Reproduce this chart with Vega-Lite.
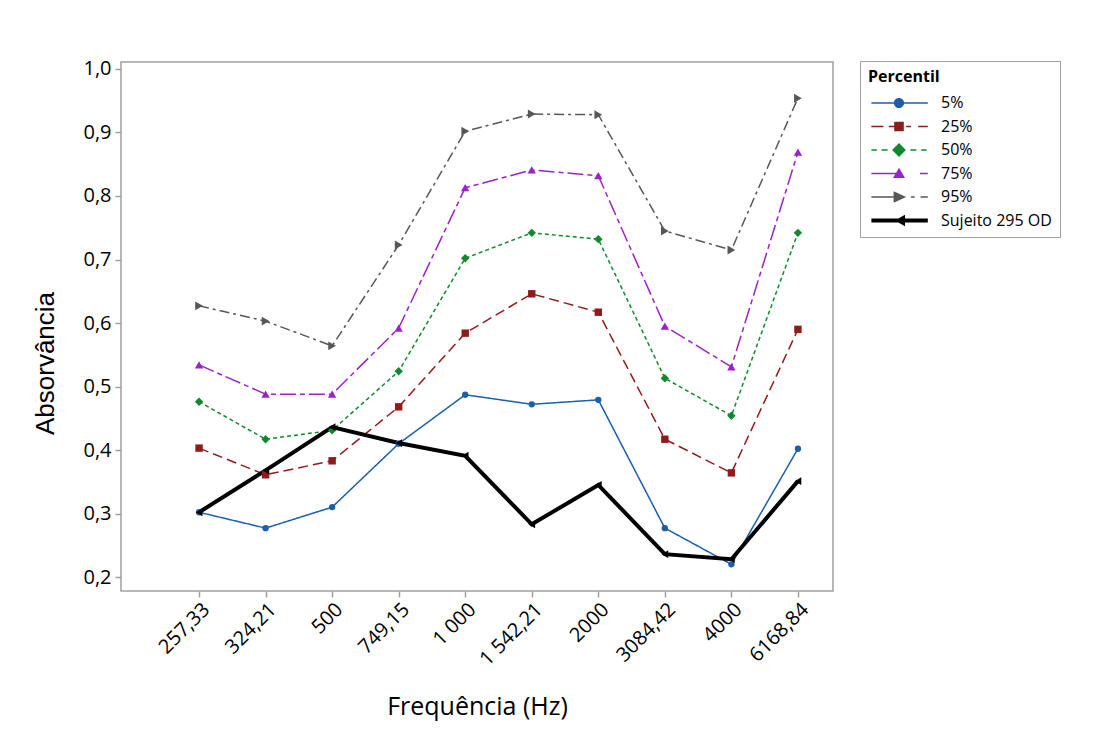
{
  "$schema": "https://vega.github.io/schema/vega-lite/v6.json",
  "autosize": {"type": "none"},
  "padding": {"left": 121, "top": 62, "right": 278, "bottom": 151},
  "width": 712,
  "height": 529,
  "background": "white",
  "config": {
    "font": "Open Sans",
    "view": {"stroke": "#a0a0a0", "strokeWidth": 1.5},
    "axis": {"domain": false, "grid": false, "tickColor": "#a0a0a0", "tickWidth": 1.5, "tickSize": 6, "labelColor": "#000", "titleColor": "#000", "labelFont": "Open Sans", "titleFont": "Open Sans"},
    "legend": {"strokeColor": "#a0a0a0", "padding": 8, "titleFontSize": 16, "titleFontWeight": "bold", "titleColor": "#000", "titlePadding": 10, "labelFontSize": 16, "labelColor": "#000", "labelFont": "Open Sans", "titleFont": "Open Sans", "symbolSize": 144, "symbolOffset": 23, "labelOffset": 34, "rowPadding": 7.5, "symbolStrokeWidth": 0, "symbolOpacity": 1}
  },
  "data": {"values": [
    {"freq": "257,33", "series": "5%", "value": 0.302},
    {"freq": "324,21", "series": "5%", "value": 0.277},
    {"freq": "500", "series": "5%", "value": 0.310},
    {"freq": "749,15", "series": "5%", "value": 0.410},
    {"freq": "1 000", "series": "5%", "value": 0.487},
    {"freq": "1 542,21", "series": "5%", "value": 0.472},
    {"freq": "2000", "series": "5%", "value": 0.479},
    {"freq": "3084,42", "series": "5%", "value": 0.277},
    {"freq": "4000", "series": "5%", "value": 0.220},
    {"freq": "6168,84", "series": "5%", "value": 0.402},
    {"freq": "257,33", "series": "25%", "value": 0.403},
    {"freq": "324,21", "series": "25%", "value": 0.361},
    {"freq": "500", "series": "25%", "value": 0.383},
    {"freq": "749,15", "series": "25%", "value": 0.468},
    {"freq": "1 000", "series": "25%", "value": 0.584},
    {"freq": "1 542,21", "series": "25%", "value": 0.646},
    {"freq": "2000", "series": "25%", "value": 0.617},
    {"freq": "3084,42", "series": "25%", "value": 0.417},
    {"freq": "4000", "series": "25%", "value": 0.364},
    {"freq": "6168,84", "series": "25%", "value": 0.590},
    {"freq": "257,33", "series": "50%", "value": 0.476},
    {"freq": "324,21", "series": "50%", "value": 0.417},
    {"freq": "500", "series": "50%", "value": 0.431},
    {"freq": "749,15", "series": "50%", "value": 0.524},
    {"freq": "1 000", "series": "50%", "value": 0.702},
    {"freq": "1 542,21", "series": "50%", "value": 0.742},
    {"freq": "2000", "series": "50%", "value": 0.732},
    {"freq": "3084,42", "series": "50%", "value": 0.513},
    {"freq": "4000", "series": "50%", "value": 0.454},
    {"freq": "6168,84", "series": "50%", "value": 0.742},
    {"freq": "257,33", "series": "75%", "value": 0.534},
    {"freq": "324,21", "series": "75%", "value": 0.488},
    {"freq": "500", "series": "75%", "value": 0.488},
    {"freq": "749,15", "series": "75%", "value": 0.592},
    {"freq": "1 000", "series": "75%", "value": 0.813},
    {"freq": "1 542,21", "series": "75%", "value": 0.841},
    {"freq": "2000", "series": "75%", "value": 0.832},
    {"freq": "3084,42", "series": "75%", "value": 0.595},
    {"freq": "4000", "series": "75%", "value": 0.531},
    {"freq": "6168,84", "series": "75%", "value": 0.869},
    {"freq": "257,33", "series": "95%", "value": 0.627},
    {"freq": "324,21", "series": "95%", "value": 0.603},
    {"freq": "500", "series": "95%", "value": 0.564},
    {"freq": "749,15", "series": "95%", "value": 0.723},
    {"freq": "1 000", "series": "95%", "value": 0.902},
    {"freq": "1 542,21", "series": "95%", "value": 0.929},
    {"freq": "2000", "series": "95%", "value": 0.928},
    {"freq": "3084,42", "series": "95%", "value": 0.745},
    {"freq": "4000", "series": "95%", "value": 0.715},
    {"freq": "6168,84", "series": "95%", "value": 0.954},
    {"freq": "257,33", "series": "Sujeito 295 OD", "value": 0.302},
    {"freq": "324,21", "series": "Sujeito 295 OD", "value": 0.368},
    {"freq": "500", "series": "Sujeito 295 OD", "value": 0.436},
    {"freq": "749,15", "series": "Sujeito 295 OD", "value": 0.411},
    {"freq": "1 000", "series": "Sujeito 295 OD", "value": 0.391},
    {"freq": "1 542,21", "series": "Sujeito 295 OD", "value": 0.283},
    {"freq": "2000", "series": "Sujeito 295 OD", "value": 0.345},
    {"freq": "3084,42", "series": "Sujeito 295 OD", "value": 0.236},
    {"freq": "4000", "series": "Sujeito 295 OD", "value": 0.228},
    {"freq": "6168,84", "series": "Sujeito 295 OD", "value": 0.351}
  ]},
  "encoding": {
    "x": {
      "field": "freq", "type": "nominal", "sort": null,
      "scale": {"type": "point", "padding": 0.85, "align": 0.69},
      "axis": {"title": "Frequência (Hz)", "labelAngle": -45, "labelFontSize": 20, "labelPadding": 2, "titleFontSize": 25, "titleFontWeight": 500, "titlePadding": 26}
    },
    "y": {
      "field": "value", "type": "quantitative",
      "scale": {"domain": [0.178, 1.011], "nice": false, "zero": false},
      "axis": {"title": "Absorvância", "values": [0.2, 0.3, 0.4, 0.5, 0.6, 0.7, 0.8, 0.9, 1.0],
        "labelExpr": "replace(format(datum.value, '.1f'), '.', ',')",
        "labelFontSize": 20, "labelPadding": 4,
        "titleFont": "Liberation Sans", "titleFontSize": 26, "titleFontWeight": "normal",
        "titleX": -76, "titleY": 301, "titleAngle": 270, "titleAlign": "center", "titleBaseline": "middle"}
    }
  },
  "resolve": {"scale": {"shape": "independent"}, "legend": {"color": "independent", "shape": "independent"}},
  "layer": [
    {
      "transform": [{"filter": "datum.series !== 'Sujeito 295 OD'"}],
      "mark": {"type": "line", "strokeCap": "butt", "strokeWidth": 1.5},
      "encoding": {
        "color": {"field": "series", "type": "nominal", "legend": null,
          "scale": {"domain": ["5%", "25%", "50%", "75%", "95%", "Sujeito 295 OD"],
            "range": ["#1b5eab", "#901b1b", "#0e8a2c", "#9b22c8", "#575757", "#000000"]}},
        "strokeDash": {"field": "series", "type": "nominal", "legend": null,
          "scale": {"domain": ["5%", "25%", "50%", "75%", "95%"],
            "range": [[1, 0], [10, 5], [4, 3], [16, 4, 5, 4], [10, 4, 3, 4]]}}
      }
    },
    {
      "transform": [{"filter": "datum.series === 'Sujeito 295 OD'"}],
      "mark": {"type": "line", "strokeWidth": 4, "strokeJoin": "miter"},
      "encoding": {
        "color": {"field": "series", "type": "nominal", "legend": null}
      }
    },
    {
      "mark": {"type": "point", "filled": true, "opacity": 1},
      "encoding": {
        "shape": {"field": "series", "type": "nominal", "legend": null,
          "scale": {"domain": ["5%", "25%", "50%", "75%", "95%", "Sujeito 295 OD"],
            "range": ["circle", "square", "diamond", "triangle-up", "triangle-right", "triangle-left"]}},
        "size": {"field": "series", "type": "nominal", "legend": null,
          "scale": {"type": "ordinal", "domain": ["5%", "25%", "50%", "75%", "95%", "Sujeito 295 OD"],
            "range": [40, 55, 70, 70, 80, 60]}},
        "color": {"field": "series", "type": "nominal", "legend": null}
      }
    },
    {
      "mark": {"type": "point", "filled": true, "opacity": 0},
      "encoding": {
        "shape": {"field": "series", "type": "nominal",
          "scale": {"domain": ["5%", "25%", "50%", "75%", "95%", "Sujeito 295 OD"],
            "range": [
              "M-4.6,-0.13H-0.8V0.13H-4.6Z M0.8,-0.13H4.8V0.13H0.8Z M-0.85,0A0.85,0.85,0,1,1,0.85,0A0.85,0.85,0,1,1,-0.85,0Z",
              "M-4.6,-0.13H-2.6V0.13H-4.6Z M-1.7,-0.13H-0.8V0.13H-1.7Z M-0.8,-0.8H0.8V0.8H-0.8Z M1.2,-0.13H2.0V0.13H1.2Z M3.2,-0.13H4.8V0.13H3.2Z",
              "M-4.6,-0.13H-3.7V0.13H-4.6Z M-2.9,-0.13H-1.9V0.13H-2.9Z M0,-1.15L1.15,0L0,1.15L-1.15,0Z M1.9,-0.13H2.9V0.13H1.9Z M3.7,-0.13H4.6V0.13H3.7Z",
              "M-4.6,-0.13H-0.5V0.13H-4.6Z M0,-0.95L1.0,0.75L-1.0,0.75Z M3.5,-0.13H4.8V0.13H3.5Z",
              "M-4.6,-0.13H-0.5V0.13H-4.6Z M-0.9,-0.95L1.2,0L-0.9,0.95Z M2.0,-0.13H2.6V0.13H2.0Z M3.6,-0.13H4.8V0.13H3.6Z",
              "M-4.6,-0.35H4.8V0.35H-4.6Z M-0.7,0L1.0,-0.95L1.0,0.95Z"
            ]},
          "legend": {"title": "\u00a0\u00a0\u00a0\u00a0\u00a0\u00a0\u00a0\u00a0\u00a0\u00a0\u00a0\u00a0\u00a0\u00a0\u00a0\u00a0\u00a0Percentil", "orient": "none", "legendX": 739, "legendY": -1, "symbolOpacity": 1, "symbolSize": 144}
        },
        "color": {"field": "series", "type": "nominal",
          "legend": {"title": "\u00a0\u00a0\u00a0\u00a0\u00a0\u00a0\u00a0\u00a0\u00a0\u00a0\u00a0\u00a0\u00a0\u00a0\u00a0\u00a0\u00a0Percentil", "orient": "none", "legendX": 739, "legendY": -1, "symbolOpacity": 1, "symbolSize": 144}
        }
      }
    }
  ]
}
